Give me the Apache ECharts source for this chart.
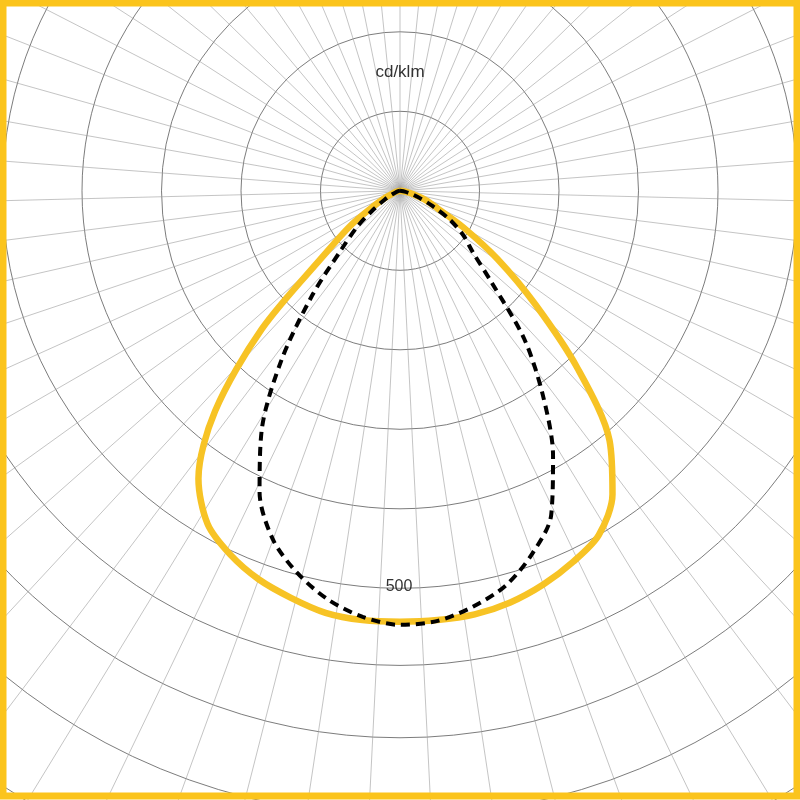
<!DOCTYPE html>
<html><head><meta charset="utf-8">
<script src="https://cdn.jsdelivr.net/npm/echarts@6/dist/echarts.min.js"></script>
<style>html,body{margin:0;padding:0;background:#fff}#c{width:800px;height:800px}</style>
</head><body><div id="c"></div>
<script>
// gamma angle from nadir (degrees); values in cd/klm
const gammaSteps   = [0, 5, 10, 15, 20, 25, 30, 35, 40, 45, 50, 55, 60, 65, 70, 75, 80, 85, 90];
const yellowLeft   = [542, 542, 539, 530, 520, 505, 484, 442, 362, 246, 122, 75, 38, 20, 10, 5, 2, 0, 0];
const yellowRight  = [542, 542, 541, 536, 527, 515, 500, 466, 410, 316, 222, 150, 92, 52, 35, 18, 8, 3, 0];
const dashedLeft   = [546, 538, 522, 498, 467, 418, 348, 260, 172, 104, 70, 40, 22, 12, 6, 3, 1, 0, 0];
const dashedRight  = [546, 543, 531, 514, 486, 450, 385, 313, 243, 163, 119, 97, 72, 45, 26, 14, 6, 2, 0];
const ringValues   = [100, 200, 300, 400, 500, 597, 688, 787, 900];
const ringLabel    = '500';
const unitLabel    = 'cd/klm';
const spokeCount   = 63;

function toPolar(left, right) {
  const pts = [];
  for (let i = gammaSteps.length - 1; i >= 0; i--) pts.push([left[i], 180 + gammaSteps[i]]);
  for (let i = 1; i < gammaSteps.length; i++) pts.push([right[i], 180 - gammaSteps[i]]);
  return pts;
}

const chart = echarts.init(document.getElementById('c'), null, {renderer: 'canvas'});
chart.setOption({
  animation: false,
  backgroundColor: '#ffffff',
  polar: {center: [400, 190.8], radius: 795},
  angleAxis: {
    type: 'value', min: 0, max: 360, interval: 360 / spokeCount,
    startAngle: 90, clockwise: true,
    axisLine: {show: false}, axisTick: {show: false}, axisLabel: {show: false},
    splitLine: {show: true, lineStyle: {color: '#9c9c9c', width: 0.6}}
  },
  radiusAxis: {
    type: 'value', min: 0, max: 1000,
    axisLine: {show: false},
    axisTick: {show: false, customValues: ringValues},
    axisLabel: {show: false},
    splitLine: {show: true, lineStyle: {color: '#5a5a5a', width: 0.8}}
  },
  series: [
    {
      type: 'line', coordinateSystem: 'polar', data: toPolar(yellowLeft, yellowRight),
      showSymbol: false, smooth: 0.3,
      lineStyle: {color: '#F7C325', width: 6.5}
    },
    {
      type: 'line', coordinateSystem: 'polar', data: toPolar(dashedLeft, dashedRight),
      showSymbol: false, smooth: 0.3,
      lineStyle: {color: '#000', width: 4, type: [9, 6]}
    }
  ],
  graphic: [
    {
      type: 'text', x: 400, y: 72, z: 100,
      style: {text: unitLabel, fill: '#333', fontSize: 17, fontFamily: 'Liberation Sans, Arial, sans-serif',
              textAlign: 'center', textVerticalAlign: 'middle'}
    },
    {
      type: 'text', x: 399, y: 587, z: 100,
      style: {text: ringLabel, fill: '#333', fontSize: 16, fontFamily: 'Liberation Sans, Arial, sans-serif',
              textAlign: 'center', textVerticalAlign: 'middle'}
    },
    {
      type: 'rect', z: 100, silent: true,
      shape: {x: 3, y: 3, width: 794, height: 793},
      style: {fill: 'none', stroke: '#FBC41C', lineWidth: 7}
    }
  ]
});
</script>
</body></html>
